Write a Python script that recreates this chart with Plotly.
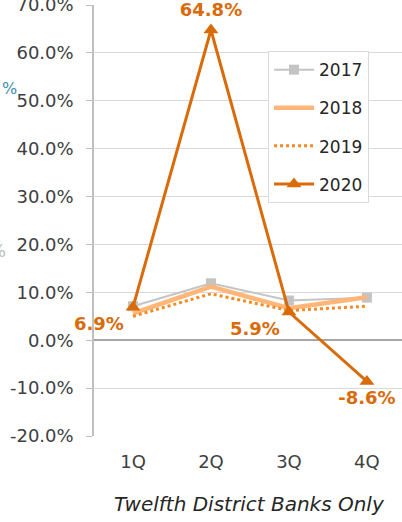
import plotly.graph_objects as go

quarters = ["1Q", "2Q", "3Q", "4Q"]
y2017 = [7.1, 11.9, 8.3, 8.9]
y2018 = [5.6, 11.2, 6.7, 9.0]
y2019 = [5.0, 9.7, 6.2, 7.1]
y2020 = [6.9, 64.8, 5.9, -8.6]
labels2020 = ["6.9%", "64.8%", "5.9%", "-8.6%"]
label_pos2020 = ["bottom left", "top center", "bottom left", "bottom center"]
y_ticks = [-20, -10, 0, 10, 20, 30, 40, 50, 60, 70]
y_ticktext = [f"{v:.1f}%" for v in y_ticks]

FONT = "DejaVu Sans"
fig = go.Figure()
fig.add_trace(go.Scatter(x=quarters, y=y2017, name="2017", mode="lines+markers",
                         line=dict(color="#c4c4c4", width=2),
                         marker=dict(symbol="square", size=10, color="#c4c4c4"),
                         legendgroup="a"))
fig.add_trace(go.Scatter(x=quarters, y=y2018, name="2018", mode="lines",
                         line=dict(color="#ffb677", width=4.5), legendgroup="b"))
fig.add_trace(go.Scatter(x=quarters, y=y2019, name="2019", mode="lines",
                         line=dict(color="#f58a26", width=3, dash="dot"), legendgroup="c"))
fig.add_trace(go.Scatter(x=quarters, y=y2020, name="2020", mode="lines+markers+text",
                         line=dict(color="#d96b0a", width=3),
                         marker=dict(symbol="triangle-up", size=13, color="#d96b0a"),
                         text=labels2020, textposition=label_pos2020,
                         textfont=dict(family=FONT, size=18, color="#d96b0a", weight="bold"),
                         cliponaxis=False, legendgroup="d"))

fig.update_layout(
    width=402, height=522,
    margin=dict(l=94, r=0, t=5, b=86),
    paper_bgcolor="white", plot_bgcolor="white",
    font=dict(family=FONT, size=18, color="#404040"),
    showlegend=True,
    legend=dict(x=0.565, y=0.893, xanchor="left", yanchor="top",
                bordercolor="#d9d9d9", borderwidth=1, bgcolor="white",
                font=dict(family=FONT, size=17, color="#262626"),
                traceorder="grouped", tracegroupgap=13, itemwidth=40),
    xaxis=dict(range=[-0.5, 3.45], showgrid=False, zeroline=False, showline=False,
               ticks="", ticklabelstandoff=13, automargin=False,
               tickfont=dict(family=FONT, size=18, color="#404040")),
    yaxis=dict(range=[-20, 70.02], tickvals=y_ticks, ticktext=y_ticktext,
               showgrid=True, gridcolor="#d9d9d9", gridwidth=1,
               zeroline=True, zerolinecolor="#a6a6a6", zerolinewidth=1.5,
               showline=True, linecolor="#bfbfbf", linewidth=1.5,
               ticks="outside", ticklen=6, tickcolor="#bfbfbf", automargin=False,
               ticklabelstandoff=9, ticklabeloverflow="allow",
               tickfont=dict(family=FONT, size=18, color="#404040")),
    annotations=[
        dict(text="<i>Twelfth District Banks Only</i>", xref="paper", yref="paper",
             x=0.506, y=-0.158, xanchor="center", yanchor="middle", showarrow=False,
             font=dict(family=FONT, size=20, color="#262626")),
        dict(text="%", xref="paper", yref="paper", x=-0.305, y=0.807, xanchor="left",
             yanchor="middle", showarrow=False,
             font=dict(family=FONT, size=16, color="#3b8fb0")),
        dict(text="%", xref="paper", yref="paper", x=-0.279, y=0.43, xanchor="right",
             yanchor="middle", showarrow=False,
             font=dict(family=FONT, size=18, color="#bfbfbf")),
    ],
)
fig.write_html("out.html", config={"displayModeBar": False},
               post_script="document.body.style.margin='0';document.body.style.padding='0';")
